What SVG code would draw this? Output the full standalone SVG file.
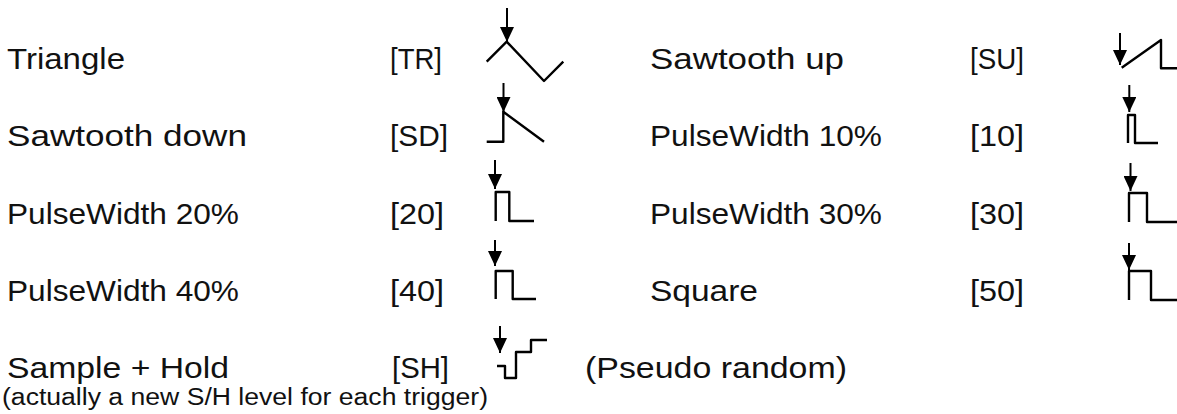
<svg xmlns="http://www.w3.org/2000/svg" width="1177" height="414" viewBox="0 0 1177 414">
<style>
.t{font-family:"Liberation Sans",Arial,sans-serif;font-size:29px;fill:#111}
.s{font-family:"Liberation Sans",Arial,sans-serif;font-size:23px;fill:#111}
.w{fill:none;stroke:#000;stroke-width:2.4;stroke-linejoin:round}
.a{fill:none;stroke:#000;stroke-width:2;marker-end:url(#ah)}
</style>
<defs>
<marker id="ah" markerUnits="userSpaceOnUse" markerWidth="15" markerHeight="14" viewBox="0 0 15 14" refX="15" refY="7" orient="auto">
<path d="M0,0 L15,7 L0,14 Z" fill="#000"/>
</marker>
</defs>
<rect width="1177" height="414" fill="#fff"/>
<g id="row-triangle">
<text class="t" x="7" y="69" textLength="118" lengthAdjust="spacingAndGlyphs">Triangle</text>
<text class="t" x="390" y="69" textLength="52" lengthAdjust="spacingAndGlyphs">[TR]</text>
<path class="w" d="M486.7,61.7 L506.7,41.7 L544,81 L563.3,61.7"/>
</g>
<g id="row-sawdown">
<text class="t" x="7" y="146" textLength="240" lengthAdjust="spacingAndGlyphs">Sawtooth down</text>
<text class="t" x="390" y="146" textLength="58" lengthAdjust="spacingAndGlyphs">[SD]</text>
<path class="w" d="M486.7,141.7 L503.3,141.7 L503.3,111.7 L544,141.7"/>
</g>
<g id="row-pw20">
<text class="t" x="7" y="224" textLength="232" lengthAdjust="spacingAndGlyphs">PulseWidth 20%</text>
<text class="t" x="390" y="224" textLength="54" lengthAdjust="spacingAndGlyphs">[20]</text>
<path class="w" d="M495.7,221 V192 H509.3 V221 H534"/>
</g>
<g id="row-pw40">
<text class="t" x="7" y="301" textLength="232" lengthAdjust="spacingAndGlyphs">PulseWidth 40%</text>
<text class="t" x="390" y="301" textLength="54" lengthAdjust="spacingAndGlyphs">[40]</text>
<path class="w" d="M495.7,299 V271 H512.7 V299 H536"/>
</g>
<g id="row-sh">
<text class="t" x="7" y="378" textLength="222" lengthAdjust="spacingAndGlyphs">Sample + Hold</text>
<text class="t" x="392" y="378" textLength="57" lengthAdjust="spacingAndGlyphs">[SH]</text>
<path class="w" d="M497,366 H505 V378 H516 V352 H531 V340 H547"/>
<text class="t" x="585" y="378" textLength="262" lengthAdjust="spacingAndGlyphs">(Pseudo random)</text>
<text class="s" x="2" y="405" textLength="486" lengthAdjust="spacingAndGlyphs">(actually a new S/H level for each trigger)</text>
</g>
<g id="row-sawup">
<text class="t" x="650" y="69" textLength="194" lengthAdjust="spacingAndGlyphs">Sawtooth up</text>
<text class="t" x="970" y="69" textLength="54" lengthAdjust="spacingAndGlyphs">[SU]</text>
<path class="w" d="M1121.7,67.7 L1161,40 V68.3 H1177"/>
</g>
<g id="row-pw10">
<text class="t" x="650" y="146" textLength="232" lengthAdjust="spacingAndGlyphs">PulseWidth 10%</text>
<text class="t" x="970" y="146" textLength="54" lengthAdjust="spacingAndGlyphs">[10]</text>
<path class="w" d="M1128,143 V115 H1135 V143 H1158"/>
</g>
<g id="row-pw30">
<text class="t" x="650" y="224" textLength="232" lengthAdjust="spacingAndGlyphs">PulseWidth 30%</text>
<text class="t" x="970" y="224" textLength="54" lengthAdjust="spacingAndGlyphs">[30]</text>
<path class="w" d="M1129,222 V193 H1147 V222 H1177"/>
</g>
<g id="row-square">
<text class="t" x="650" y="301" textLength="108" lengthAdjust="spacingAndGlyphs">Square</text>
<text class="t" x="970" y="301" textLength="54" lengthAdjust="spacingAndGlyphs">[50]</text>
<path class="w" d="M1129,300 V271 H1151 V300 H1177"/>
</g>
<g id="connectors">
<line class="a" x1="507" y1="8" x2="507" y2="42"/>
<line class="a" x1="503.5" y1="83" x2="503.5" y2="112"/>
<line class="a" x1="495" y1="160" x2="495" y2="189"/>
<line class="a" x1="495" y1="240" x2="495" y2="266"/>
<line class="a" x1="500" y1="326" x2="500" y2="353"/>
<line class="a" x1="1120" y1="33" x2="1120" y2="65"/>
<line class="a" x1="1129.3" y1="85" x2="1129.3" y2="112"/>
<line class="a" x1="1130.5" y1="163" x2="1130.5" y2="191"/>
<line class="a" x1="1129" y1="243" x2="1129" y2="270"/>
</g>
</svg>
